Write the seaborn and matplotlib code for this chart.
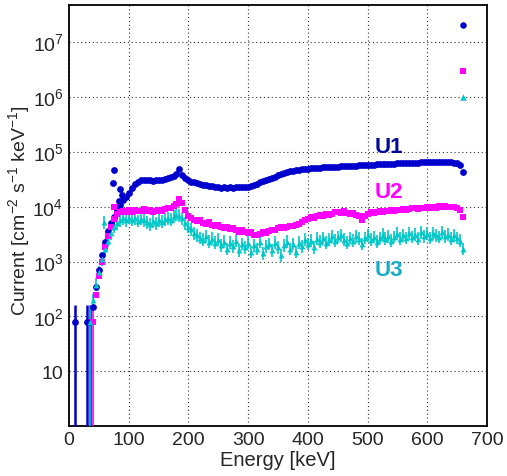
import numpy as np
import pandas as pd
import matplotlib
matplotlib.use("Agg")
import matplotlib.pyplot as plt
import matplotlib.ticker as mticker
import seaborn as sns

# ---------------- data ----------------
energy = np.arange(5, 665, 5)  # keV bin centres, 5 keV steps

nan = np.nan
u1_vals = [nan, 80, nan, nan, nan, 80, 80, 150, 350, 700,
           1300, 2300, 3600, 5000, 6500, 8500, 10500, 13000, 15000, 18000,
           22000, 26000, 28500, 30000, 31000, 30000, 30500, 29500, 30000, 31000,
           30500, 32000, 33000, 34000, 36000, 39000, 48000, 38000, 33000, 30000,
           28500, 27500, 27000, 26000, 25000, 24500, 24000, 23500, 23000, 22500,
           22000, 22500, 22000, 22500, 22000, 22500, 23000, 22500, 23000, 23000,
           24000, 25000, 26000, 27500, 29000, 30500, 32000, 33500, 35000, 37000,
           39000, 41000, 42500, 44000, 45000, 46000, 47000, 47500, 48500, 49000,
           49500, 50000, 50000, 51000, 51500, 52000, 52500, 53000, 53000, 53500,
           54000, 54000, 54500, 55000, 55000, 55500, 56000, 56000, 56500, 57000,
           57500, 58000, 58500, 59000, 59000, 59500, 60000, 60000, 60500, 61000,
           61000, 61500, 62000, 62000, 62500, 63000, 63000, 63500, 64000, 64000,
           65000, 64500, 65000, 65000, 64500, 65000, 64000, 63500, 63000, 61000,
           58000, 42000]
u1_peak_energy = [73, 75, 84, 86, 88]
u1_peak_vals = [27000, 46000, 12700, 21000, 16500]

u2_vals = [nan, nan, nan, nan, nan, nan, nan, 80, 250, 550,
           1000, 1800, 2900, 4300, 6000, 7200, 7800, 8300, 7900, 8500,
           8100, 8700, 8200, 8400, 8900, 8200, 8600, 7900, 8300, 8700,
           8400, 8900, 9300, 9600, 10200, 11000, 13500, 11500, 8500, 6800,
           6300, 5800, 5500, 5600, 5100, 4900, 5200, 4600, 4400, 4700,
           4200, 4000, 4300, 3900, 4100, 3700, 3500, 3800, 3400, 3300,
           3500, 3100, 3000, 3200, 3400, 3300, 3600, 3800, 3700, 4000,
           4200, 4000, 4300, 4500, 4400, 4700, 4900, 5200, 5600, 6000,
           6400, 6200, 6800, 7000, 6800, 7300, 7000, 7400, 7800, 8000,
           7700, 8300, 7600, 7300, 7500, 7100, 6600, 5600, 6700, 7400,
           7800, 7600, 8000, 8200, 7900, 8400, 8300, 8600, 8400, 8800,
           8600, 9000, 8700, 9200, 9400, 9600, 9200, 9500, 9300, 9700,
           9500, 9900, 9600, 10100, 9800, 10300, 9900, 10000, 9700, 9400,
           8600, 6500]
u2_peak_energy = [75]
u2_peak_vals = [10000]

u3_vals = [nan, nan, nan, nan, nan, nan, 80, 200, 380, 650,
           1100, 1700, 2400, 3300, 4300, 5000, 5600, 6100, 5700, 6300,
           5800, 6200, 5500, 6000, 5600, 5200, 4800, 5400, 5000, 5600,
           5300, 5900, 6200, 5800, 6600, 7100, 6800, 6200, 5000, 4300,
           3900, 3300, 3000, 2700, 2500, 2900, 2300, 2600, 2200, 2500,
           2000, 2300, 1700, 2200, 1900, 2400, 1600, 2100, 1800, 2200,
           1500, 2000, 1700, 2300, 1400, 1900, 2100, 1600, 2200, 1800,
           1300, 2000, 2300, 1700, 2100, 1500, 2200, 1900, 2500, 2100,
           2400, 1800, 2600, 2300, 2700, 2200, 2500, 2900, 2400, 2800,
           3000, 2500, 2200, 2700, 2400, 2900, 2600, 2100, 2700, 3000,
           2500, 2800, 2300, 2700, 3100, 2600, 2900, 2400, 2800, 3200,
           2600, 3000, 2700, 3300, 2800, 3100, 2600, 3400, 2900, 3200,
           2700, 3300, 3000, 2800, 3400, 2900, 3100, 2600, 3000, 2700,
           2400, 1700]
u3_peak_energy = [59]
u3_peak_vals = [5200]

# relative statistical errors per series
u1_relerr = 0.04
u2_relerr = 0.12
u3_relerr = 0.30

# markers shown in the top-right corner (empty legend)
legend_energy = [660, 660, 660]
legend_vals = [2.04e7, 2.9e6, 1.0e6]

series_names = ["U1", "U2", "U3"]
label_energy = [536, 536, 536]
label_vals = [1.25e5, 1.9e4, 7.1e2]

x_ticks = [0, 100, 200, 300, 400, 500, 600, 700]
y_tick_exponents = [1, 2, 3, 4, 5, 6, 7]

assert len(u1_vals) == len(energy) == len(u2_vals) == len(u3_vals)

# ---------------- style ----------------
sns.set_style("white")
plt.rcParams["font.family"] = ["Liberation Sans", "DejaVu Sans"]
plt.rcParams["mathtext.fontset"] = "custom"
plt.rcParams["mathtext.rm"] = "Liberation Sans"
plt.rcParams["mathtext.it"] = "Liberation Sans:italic"
plt.rcParams["mathtext.bf"] = "Liberation Sans:bold"

colors = {"U1": "#0000cc", "U2": "#ff00ff", "U3": "#00c8c8"}
text_colors = {"U1": "#000a96", "U2": "#ff00ff", "U3": "#18acc8"}
markers = {"U1": "o", "U2": "s", "U3": "^"}
msize = {"U1": 24, "U2": 16, "U3": 18}

fig = plt.figure(figsize=(5.07, 4.77), dpi=100)
ax = fig.add_axes([69 / 507, 1 - 426.5 / 477, 418 / 507, 420.8 / 477])
ax.set_yscale("log")
ax.set_xlim(0, 700)
ax.set_ylim(1.04, 4.7e7)

ax.grid(True, which="major", color="#333333", linestyle=(0, (1, 2.5)), linewidth=0.8)
ax.set_axisbelow(True)

data = {
    "U1": (u1_vals, u1_peak_energy, u1_peak_vals, u1_relerr),
    "U2": (u2_vals, u2_peak_energy, u2_peak_vals, u2_relerr),
    "U3": (u3_vals, u3_peak_energy, u3_peak_vals, u3_relerr),
}

for name in series_names:
    vals, pe, pv, rel = data[name]
    e = np.concatenate([energy, np.array(pe, float)])
    v = np.concatenate([np.array(vals, float), np.array(pv, float)])
    df = pd.DataFrame({"energy": e, "current": v}).dropna()
    r = np.where(df["current"].values <= 100, 1.0, rel)
    hi = df["current"].values * r
    lo = np.where(r >= 1.0, df["current"].values - 0.5, df["current"].values * r * 0.8)
    ax.errorbar(df["energy"], df["current"], yerr=[lo, hi], xerr=1.2, fmt="none",
                ecolor=colors[name], elinewidth=1.2 if name != "U1" else 1.8,
                capsize=0, zorder=3)
    sns.scatterplot(data=df, x="energy", y="current", ax=ax, color=colors[name],
                    marker=markers[name], s=msize[name], linewidth=0, zorder=4,
                    legend=False)

for name, le, lv in zip(series_names, legend_energy, legend_vals):
    ax.scatter([le], [lv], color=colors[name], marker=markers[name], s=22,
               linewidth=0, zorder=5)

for name, le, lv in zip(series_names, label_energy, label_vals):
    ax.text(le, lv, name, ha="center", va="center", fontsize=16,
            fontweight="bold", color=text_colors[name], zorder=6)

# ticks
ax.xaxis.set_major_locator(mticker.FixedLocator(x_ticks))
ax.xaxis.set_minor_locator(mticker.MultipleLocator(20))
y_major = [10.0 ** n for n in y_tick_exponents]
y_minor = [m * 10.0 ** n for n in range(0, 8) for m in range(2, 10)
           if m * 10.0 ** n < 4.7e7]
ax.yaxis.set_major_locator(mticker.FixedLocator(y_major))
ax.yaxis.set_minor_locator(mticker.FixedLocator(y_minor))
ax.yaxis.set_minor_formatter(mticker.NullFormatter())
ax.yaxis.set_major_formatter(mticker.FixedFormatter(
    ["10" if n == 1 else r"$\mathregular{10^{%d}}$" % n for n in y_tick_exponents]))

ax.tick_params(axis="both", which="both", direction="in", top=False, right=False,
               labelsize=14, color="black")
ax.tick_params(axis="x", which="major", length=7, width=1, pad=4)
ax.tick_params(axis="x", which="minor", length=4, width=1)
ax.tick_params(axis="y", which="major", length=9, width=1, pad=4)
ax.tick_params(axis="y", which="minor", length=5, width=1)

for sp in ax.spines.values():
    sp.set_linewidth(1.3)
    sp.set_color("black")

ax.set_xlabel("Energy [keV]", fontsize=14.5)
ax.set_ylabel(r"Current [cm$^{\mathregular{-2}}$ s$^{\mathregular{-1}}$ keV$^{\mathregular{-1}}$]",
              fontsize=14)
ax.xaxis.set_label_coords(0.5, -0.058)
ax.yaxis.set_label_coords(-0.088, 0.514)

fig.savefig("out.png", dpi=100)
